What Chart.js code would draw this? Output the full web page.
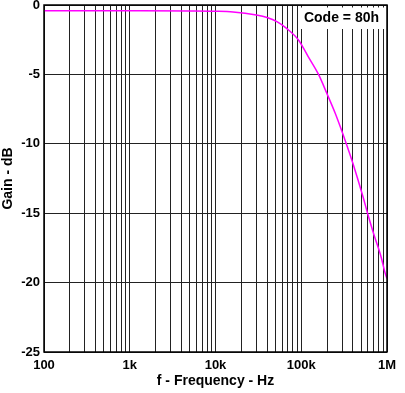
<!DOCTYPE html>
<html>
<head>
<meta charset="utf-8">
<script src="https://cdn.jsdelivr.net/npm/chart.js@4"></script>
<style>
    html, body { margin: 0; padding: 0; background: #fff; }
    #wrap { width: 405px; height: 393px; }
</style>
</head>
<body>
<div id="wrap"><canvas id="gain"></canvas></div>
<script>
// frequency (Hz) and gain (dB)
const freqHz = [100, 1000, 5000, 10000, 16000, 30000, 40000, 52000, 68000, 92800, 120000, 159000, 199000, 249000, 298000, 340000, 400000, 524000, 593000, 700000, 849000, 955000, 1000000];
const gainDb = [-0.42, -0.42, -0.43, -0.45, -0.5, -0.72, -0.9, -1.2, -1.7, -2.52, -3.7, -5.0, -6.37, -7.8, -9.1, -10.1, -11.4, -13.8, -15.0, -16.5, -18.1, -19.35, -19.7];

const decades = [100, 1000, 10000, 100000, 1000000];
const decadeLabels = ["100", "1k", "10k", "100k", "1M"];
const codeLabel = "Code = 80h";

const font = "'Liberation Sans', Arial, sans-serif";

// every 1..9 multiple inside the range gets a grid line
let gridValues = [];
decades.forEach((d, i) => {
    if (i == decades.length - 1) {
        gridValues.push(d);
        return;
    }
    for (let m = 1; m < 10; m++) gridValues.push(d * m);
});

const frameAndLabel = {
    id: "frameAndLabel",
    beforeDatasetsDraw(chart) {
        const { ctx, chartArea } = chart;
        ctx.save();
        ctx.font = "bold 14px " + font;
        const w = ctx.measureText(codeLabel).width + 10;
        ctx.fillStyle = "#fff";
        ctx.fillRect(chartArea.right - w - 1, chartArea.top + 2.5, w, 21.5);
        ctx.fillStyle = "#000";
        ctx.textAlign = "center";
        ctx.textBaseline = "middle";
        ctx.fillText(codeLabel, chartArea.right - w / 2 - 3, chartArea.top + 13);
        ctx.restore();
    },
    afterDraw(chart) {
        const { ctx, chartArea } = chart;
        ctx.save();
        ctx.strokeStyle = "#000";
        ctx.lineWidth = 1.5;
        ctx.strokeRect(chartArea.left, chartArea.top, chartArea.right - chartArea.left, chartArea.bottom - chartArea.top);
        ctx.restore();
    },
};

new Chart(document.getElementById("gain"), {
    type: "line",
    data: {
        datasets: [
            {
                data: freqHz.map((f, i) => ({ x: f, y: gainDb[i] })),
                borderColor: "#ff00ff",
                borderWidth: 1.5,
                pointRadius: 0,
                cubicInterpolationMode: "monotone",
                fill: false,
            },
        ],
    },
    options: {
        responsive: true,
        maintainAspectRatio: false,
        animation: false,
        layout: {
            padding: { top: 5, right: 18, left: 0, bottom: 0 },
        },
        plugins: {
            legend: { display: false },
            tooltip: { enabled: false },
        },
        scales: {
            x: {
                type: "logarithmic",
                min: 100,
                max: 1000000,
                afterBuildTicks: (scale) => {
                    scale.ticks = gridValues.map((v) => ({ value: v }));
                },
                afterFit: (scale) => {
                    scale.height = 41;
                    scale.paddingLeft = 0;
                    scale.paddingRight = 0;
                },
                ticks: {
                    autoSkip: false,
                    maxRotation: 0,
                    padding: 6,
                    color: "#000",
                    font: { family: font, size: 13, weight: "bold" },
                    callback: (value) => {
                        const i = decades.indexOf(value);
                        return i >= 0 ? decadeLabels[i] : "";
                    },
                },
                grid: {
                    color: "#222",
                    lineWidth: 1,
                    drawTicks: false,
                },
                border: { display: false },
                title: {
                    display: true,
                    text: "f - Frequency - Hz",
                    color: "#000",
                    font: { family: font, size: 14, weight: "bold" },
                    padding: { top: 0, bottom: 3 },
                },
            },
            y: {
                min: -25,
                max: 0,
                afterFit: (scale) => {
                    scale.width = 44;
                    scale.paddingTop = 0;
                    scale.paddingBottom = 0;
                },
                ticks: {
                    stepSize: 5,
                    padding: 4,
                    color: "#000",
                    font: { family: font, size: 13, weight: "bold" },
                },
                grid: {
                    color: "#222",
                    lineWidth: 1,
                    drawTicks: false,
                },
                border: { display: false },
                title: {
                    display: true,
                    text: "Gain - dB",
                    color: "#000",
                    font: { family: font, size: 14, weight: "bold" },
                    padding: { top: 0, bottom: 0 },
                },
            },
        },
    },
    plugins: [frameAndLabel],
});
</script>
</body>
</html>
